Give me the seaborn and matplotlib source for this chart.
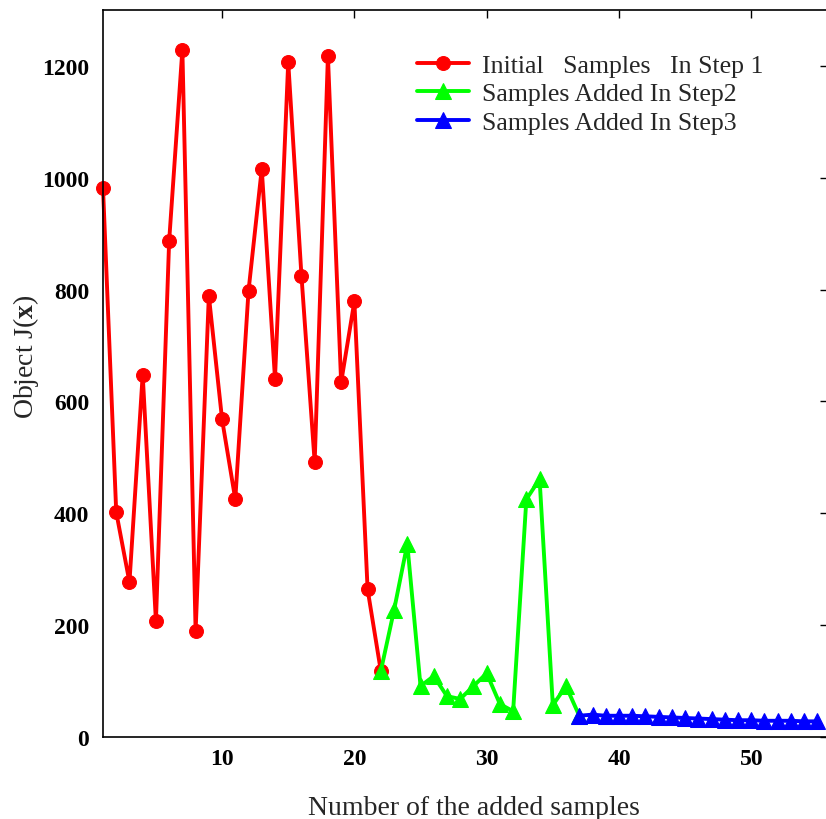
import matplotlib
matplotlib.use("Agg")
import matplotlib.pyplot as plt
import seaborn as sns
import pandas as pd

# Objective values per sample index, grouped by the step that added them
step1_x = list(range(1, 23))
step1_y = [982, 402, 277, 648, 207, 887, 1229, 189, 789, 568, 425,
           798, 1016, 641, 1207, 825, 491, 1218, 634, 779, 264, 118]

step2_x = list(range(22, 38))
step2_y = [118, 227, 345, 91, 109, 73, 68, 91, 114, 59, 46, 425, 461, 57, 91, 38]

step3_x = list(range(37, 56))
step3_y = [38, 40, 38, 38, 38, 37, 36, 35, 34, 33, 32, 31, 30, 30, 29, 29, 29, 28, 28]

labels = ["Initial   Samples   In Step 1",
          "Samples Added In Step2",
          "Samples Added In Step3"]
x_ticks = [10, 20, 30, 40, 50]
y_ticks = [0, 200, 400, 600, 800, 1000, 1200]

sns.set_theme(style="white")
plt.rcParams["font.family"] = ["Liberation Serif", "DejaVu Serif"]
plt.rcParams["mathtext.fontset"] = "custom"
plt.rcParams["mathtext.rm"] = "Liberation Serif"
plt.rcParams["mathtext.bf"] = "Liberation Serif:bold"

fig = plt.figure(figsize=(8.26, 8.20), dpi=100)
ax = fig.add_axes([103 / 826, 82 / 820, 725 / 826, 727 / 820])

series = [
    (step1_x, step1_y, "#ff0000", "o", 10),
    (step2_x, step2_y, "#00ff00", "^", 11.5),
    (step3_x, step3_y, "#0000ff", "^", 11.5),
]
for (xs, ys, color, marker, ms), lab in zip(series, labels):
    df = pd.DataFrame({"n": xs, "J": ys})
    sns.lineplot(data=df, x="n", y="J", ax=ax, color=color, marker=marker,
                 markersize=ms, markeredgecolor=color, linewidth=2.8,
                 label=lab, clip_on=False)

ax.set_xlim(1, 55.8)
ax.set_ylim(0, 1300)
ax.set_xticks(x_ticks)
ax.set_yticks(y_ticks)
ax.tick_params(direction="in", length=6, width=1, top=True, right=True,
               labelsize=17, colors="black")
ax.tick_params(axis="x", pad=8)
ax.tick_params(axis="y", pad=10)
for lbl in ax.get_xticklabels() + ax.get_yticklabels():
    lbl.set_fontweight("bold")
for sp in ax.spines.values():
    sp.set_color("black")
    sp.set_linewidth(1.2)

ax.set_xlabel("Number of the added samples", fontsize=20)
ax.set_ylabel(r"Object J($\mathbf{x}$)", fontsize=20)
ax.xaxis.set_label_coords(0.512, -0.0795)
ax.yaxis.set_label_coords(-0.086, 0.524)

leg = ax.legend(loc="upper left", bbox_to_anchor=(417 / 826, (820 - 55) / 820),
                bbox_transform=fig.transFigure, frameon=False,
                fontsize=18.6, handlelength=2.0, handletextpad=0.5,
                labelspacing=0.2, borderpad=0, borderaxespad=0)

fig.savefig("out.png", dpi=100)
